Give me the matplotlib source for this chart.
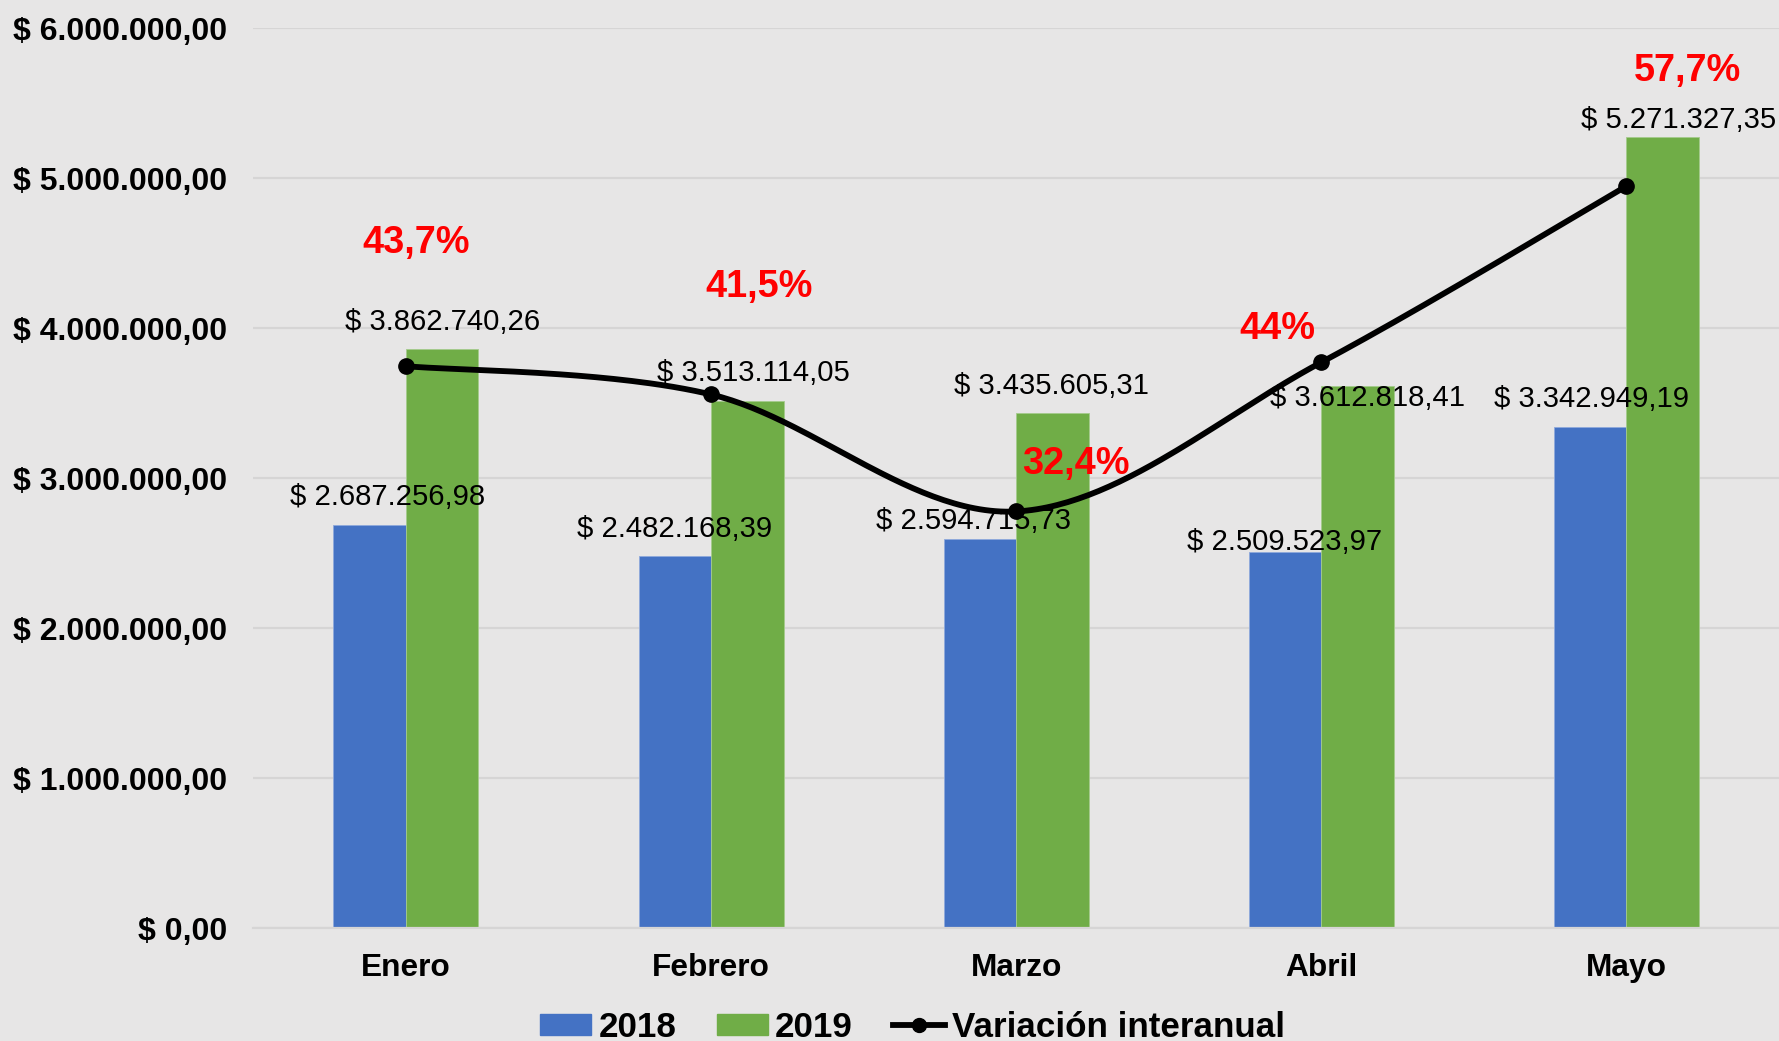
import numpy as np
import matplotlib
matplotlib.use('Agg')
import matplotlib.pyplot as plt
from matplotlib.lines import Line2D
from matplotlib.patches import Patch
from matplotlib.ticker import FuncFormatter

plt.rcParams['font.family'] = ['Liberation Sans', 'DejaVu Sans']

# ---- data ----
meses = ['Enero', 'Febrero', 'Marzo', 'Abril', 'Mayo']
v2018 = [2687256.98, 2482168.39, 2594715.73, 2509523.97, 3342949.19]
v2019 = [3862740.26, 3513114.05, 3435605.31, 3612818.41, 5271327.35]
variacion = [0.437, 0.415, 0.324, 0.44, 0.577]
var_labels = ['43,7%', '41,5%', '32,4%', '44%', '57,7%']
y_ticks = [0, 1000000, 2000000, 3000000, 4000000, 5000000, 6000000]

# label offsets (pixels) - styling only
off2018 = [(18, 14), (0, 13), (-6, 4), (-1, -4), (1, 14)]
off2019 = [(0, 13), (6, 14), (-1, 13), (10, -26), (16, 3)]
offvar = [(10, 123), (48, 107), (60, 47), (-44, 33), (61, 115)]

BLUE = '#4472C4'
GREEN = '#70AD47'
BG = '#E7E6E6'


def money(v):
    s = f"{v:,.2f}"
    s = s.replace(',', 'X').replace('.', ',').replace('X', '.')
    return f"$ {s}"


fig = plt.figure(figsize=(17.79, 10.41), dpi=100, facecolor=BG)
ax = fig.add_axes([0.1424, 0.1085, 0.8576, 0.8646])
ax.set_facecolor(BG)

x = np.arange(len(meses))
w = 0.2375
ax.bar(x - w / 2, v2018, w, color=BLUE, edgecolor='#8FA9DC', linewidth=0.6, zorder=2)
ax.bar(x + w / 2, v2019, w, color=GREEN, edgecolor='#A5CB8C', linewidth=0.6, zorder=2)

ax.set_xlim(-0.5, len(meses) - 0.5)
ax.set_ylim(0, 6000000)
ax.set_yticks(y_ticks)
ax.yaxis.set_major_formatter(FuncFormatter(lambda v, p: money(v)))
ax.set_xticks(x)
ax.set_xticklabels(meses)
ax.tick_params(axis='y', length=0, pad=19, labelsize=23)
ax.tick_params(axis='x', length=0, pad=18, labelsize=22.8)
for lab in ax.get_yticklabels() + ax.get_xticklabels():
    lab.set_fontweight('bold')
ax.grid(axis='y', color='#D6D5D5', linewidth=1.6, zorder=0)
ax.set_axisbelow(True)
for s in ['top', 'right', 'left']:
    ax.spines[s].set_visible(False)
ax.spines['bottom'].set_color('#D6D5D5')
ax.spines['bottom'].set_linewidth(1.6)

for i in range(len(meses)):
    ax.annotate(money(v2018[i]), (x[i] - w / 2, v2018[i]), xytext=off2018[i],
                textcoords='offset pixels', ha='center', va='bottom',
                fontsize=21.1, color='black', annotation_clip=False, zorder=3)
    ax.annotate(money(v2019[i]), (x[i] + w / 2, v2019[i]), xytext=off2019[i],
                textcoords='offset pixels', ha='center', va='bottom',
                fontsize=21.1, color='black', annotation_clip=False, zorder=3)

# secondary axis for variation line
ax2 = ax.twinx()
ax2.set_ylim(0, 0.7)
ax2.set_xlim(-0.5, len(meses) - 0.5)
ax2.axis('off')

# smoothed curve (Catmull-Rom Bezier, like spreadsheet smoothing)
px = np.array(x, dtype=float)
py = np.array(variacion, dtype=float)
cx, cy = [], []
n = len(px)
t = np.linspace(0, 1, 60)
for i in range(n - 1):
    i0 = max(i - 1, 0)
    i3 = min(i + 2, n - 1)
    P0 = np.array([px[i0], py[i0]])
    P1 = np.array([px[i], py[i]])
    P2 = np.array([px[i + 1], py[i + 1]])
    P3 = np.array([px[i3], py[i3]])
    C1 = P1 + (P2 - P0) / 6.0
    C2 = P2 - (P3 - P1) / 6.0
    for tt in t:
        pt = ((1 - tt) ** 3) * P1 + 3 * ((1 - tt) ** 2) * tt * C1 + 3 * (1 - tt) * tt ** 2 * C2 + tt ** 3 * P2
        cx.append(pt[0])
        cy.append(pt[1])
ax2.plot(cx, cy, color='black', linewidth=4.2, zorder=4, solid_capstyle='round')
ax2.plot(px, py, 'o', color='black', markersize=11, zorder=5)

for i in range(n):
    ax2.annotate(var_labels[i], (px[i], py[i]), xytext=offvar[i],
                 textcoords='offset pixels', ha='center', va='center',
                 fontsize=27.3, fontweight='bold', color='#FF0000',
                 annotation_clip=False, zorder=6)

handles = [Patch(facecolor=BLUE, edgecolor=BLUE),
           Patch(facecolor=GREEN, edgecolor=GREEN),
           Line2D([0], [0], color='black', linewidth=4.2, marker='o', markersize=10)]
fig.legend(handles, ['2018', '2019', 'Variación interanual'], loc='center left',
           bbox_to_anchor=(0.3035, 0.0134), ncol=3, frameon=False,
           prop={'size': 25.2, 'weight': 'bold'}, handlelength=1.47,
           handleheight=0.55, handletextpad=0.2, columnspacing=1.15,
           borderaxespad=0, borderpad=0)

fig.savefig('out.png', dpi=100, facecolor=BG)
